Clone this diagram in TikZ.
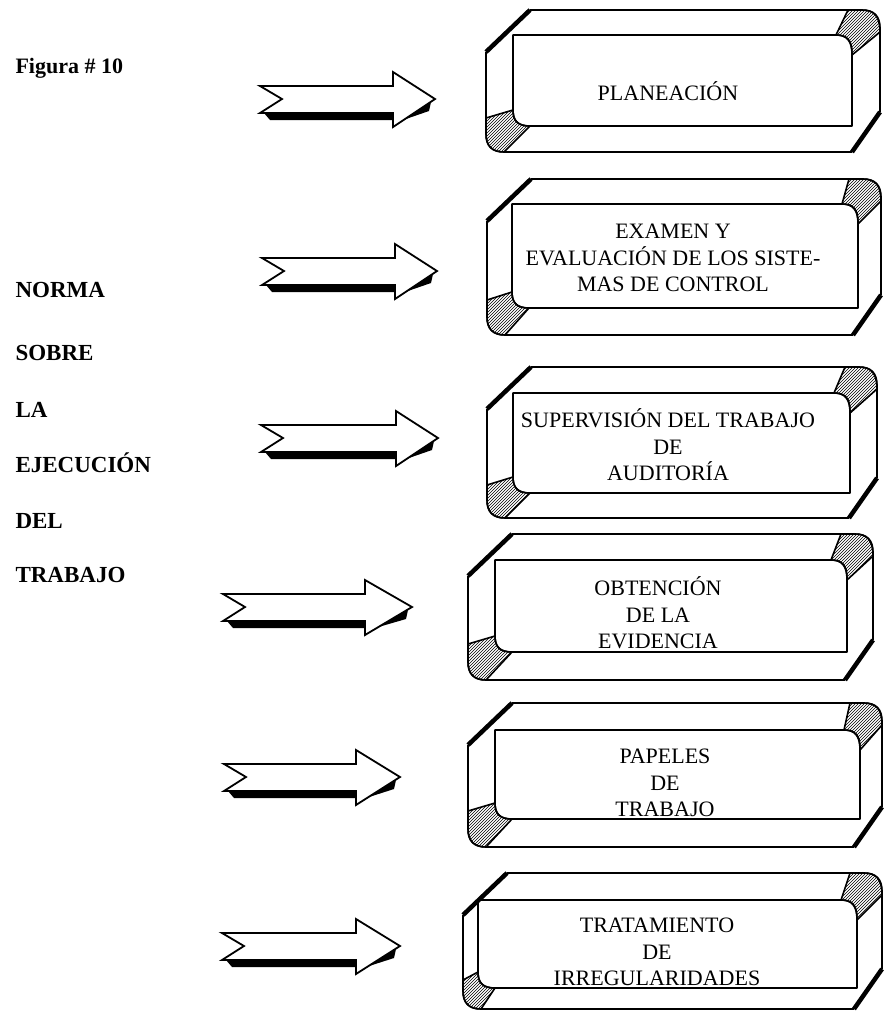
\documentclass[tikz,border=0pt]{standalone}
\usepackage{fontspec}
\setmainfont{Liberation Serif}
\usetikzlibrary{patterns}

\tikzset{
  boxline/.style={line width=1.6pt, line join=round},
  bevel/.style={line width=4.5pt},
  hatch/.style={boxline, pattern=north east lines},
  boxtext/.style={align=center, font=\fontsize{22}{26.5}\selectfont},
  sidelabel/.style={anchor=base west, font=\fontsize{23}{27}\selectfont\bfseries},
  arrowline/.style={line width=1.8pt, line join=miter, fill=white},
  shadow/.style={fill=black}
}

% outer left, top, right, bottom, then the same for the front face
\newcommand{\bevelbox}[8]{%
  \draw[hatch] (#3-32,#2) -- (#3-18,#2) .. controls (#3-6,#2) and (#3,#2+6) .. (#3,#2+22)
    -- (#7,#6+20) .. controls (#7,#6+6) and (#7-5,#6) .. (#7-16,#6) -- cycle;
  \draw[hatch] (#1,#8-8) -- (#1,#4-18) .. controls (#1,#4-6) and (#1+6,#4) .. (#1+18,#4)
    -- (#5+17,#8) .. controls (#5+5,#8) and (#5,#8-5) .. (#5,#8-16) -- cycle;
  \draw[boxline] (#1+44,#2) -- (#3-18,#2) .. controls (#3-6,#2) and (#3,#2+6) .. (#3,#2+18) -- (#3,#4-40);
  \draw[boxline] (#3-28,#4) -- (#1+18,#4) .. controls (#1+6,#4) and (#1,#4-6) .. (#1,#4-18) -- (#1,#2+42);
  \draw[bevel] (#1,#2+42) -- (#1+44,#2);
  \draw[bevel] (#3,#4-40) -- (#3-28,#4);
  \draw[boxline] (#5,#6) -- (#7-16,#6) .. controls (#7-5,#6) and (#7,#6+5) .. (#7,#6+18) -- (#7,#8)
    -- (#5+17,#8) .. controls (#5+5,#8) and (#5,#8-5) .. (#5,#8-16) -- cycle;
}

% tail x, centre y, tip x, head base x
\newcommand{\blockarrow}[4]{%
  \fill[shadow] (#1+4,#2+14) -- (#4,#2+14) -- (#4,#2+21) -- (#1+10,#2+21) -- cycle;
  \fill[shadow] (#4+10,#2+21) -- (#3-4,#2+3) -- (#3-6,#2+12) -- cycle;
  \draw[arrowline] (#1,#2-13) -- (#4,#2-13) -- (#4,#2-27) -- (#3,#2) -- (#4,#2+28)
    -- (#4,#2+14) -- (#1,#2+14) -- (#1+22,#2) -- cycle;
}

\begin{document}
\begin{tikzpicture}[x=1pt,y=-1pt]
\useasboundingbox (0,0) rectangle (884,1013);

\node[sidelabel, font=\fontsize{22}{26}\selectfont\bfseries] (figura) at (12,73) {Figura \# 10};
\node[sidelabel] (norma) at (12,297) {NORMA};
\node[sidelabel] (sobre) at (12,360) {SOBRE};
\node[sidelabel] (la) at (12,417) {LA};
\node[sidelabel] (ejecucion) at (12,472) {EJECUCIÓN};
\node[sidelabel] (del) at (12,528) {DEL};
\node[sidelabel] (trabajo) at (12,582) {TRABAJO};

\bevelbox{486}{10}{880}{152}{513}{35}{852}{126}
\bevelbox{487}{179}{881}{335}{512}{204}{858}{308}
\bevelbox{487}{367}{877}{518}{513}{393}{850}{493}
\bevelbox{468}{534}{873}{680}{495}{560}{847}{652}
\bevelbox{468}{703}{882}{847}{495}{730}{860}{819}
\bevelbox{463}{873}{882}{1009}{478}{900}{857}{988}

\node[boxtext] (planeacion) at (668,91) {PLANEACIÓN};
\node[boxtext] (examen) at (673,258) {EXAMEN Y\\EVALUACIÓN DE LOS SISTE-\\MAS DE CONTROL};
\node[boxtext] (supervision) at (668,445) {SUPERVISIÓN DEL TRABAJO\\DE\\AUDITORÍA};
\node[boxtext] (obtencion) at (658,613) {OBTENCIÓN\\DE LA\\EVIDENCIA};
\node[boxtext] (papeles) at (665,783) {PAPELES\\DE\\TRABAJO};
\node[boxtext] (tratamiento) at (657,952) {TRATAMIENTO\\DE\\IRREGULARIDADES};

\blockarrow{260}{99}{435}{393}
\blockarrow{262}{271}{437}{395}
\blockarrow{261}{438}{438}{396}
\blockarrow{223}{607}{412}{365}
\blockarrow{224}{777}{400}{356}
\blockarrow{222}{946}{400}{356}
\end{tikzpicture}
\end{document}
